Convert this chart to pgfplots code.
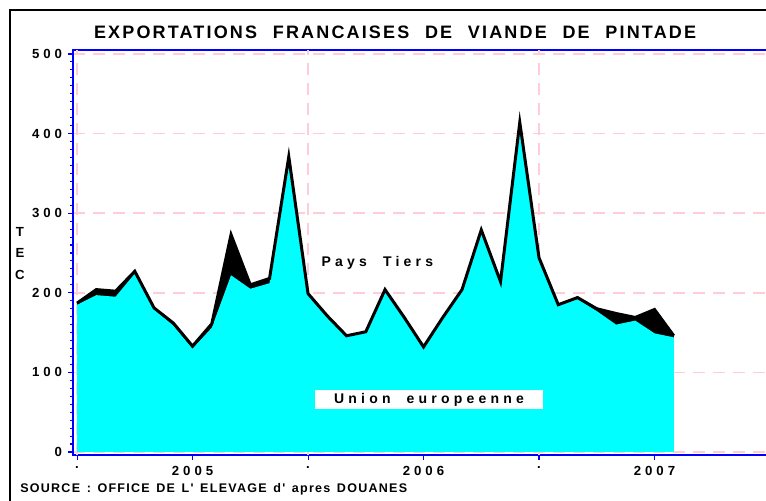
\documentclass[border=0pt]{standalone}
\usepackage{fontspec}
\setmainfont{Liberation Sans}
\newfontfamily\titlefont{Liberation Sans}[LetterSpace=12,WordSpace=2.2]
\newfontfamily\tickfont{Liberation Sans}[LetterSpace=30]
\newfontfamily\labfont{Liberation Sans}[LetterSpace=30,WordSpace=2]
\newfontfamily\srcfont{Liberation Sans}[LetterSpace=10,WordSpace=1.4]
\usepackage{pgfplots}
\usepackage{pgfplotstable}
\pgfplotsset{compat=1.18}
\definecolor{gridpink}{RGB}{255,205,215}
\definecolor{aqua}{RGB}{0,255,255}
\definecolor{axblue}{RGB}{0,0,255}
\pgfplotstableread{
m total ue
0 187 185
1 204 197
2 202 195
3 227 224
4 181 179
5 162 159
6 133 130
7 161 156
8 273 222
9 210 205
10 218 212
11 371 368
12 199 198
13 171 170
14 146 145
15 151 150
16 204 203
17 169 168
18 132 131
19 169 168
20 204 203
21 279 277
22 214 213
23 414 410
24 244 243
25 185 184
26 194 192
27 180 177
28 174 160
29 169 165
30 179 149
31 146 144
}\datatab
\begin{document}
\begin{tikzpicture}
\begin{axis}[
 at={(54.75pt,-341.25pt)}, anchor=south west,
 scale only axis, width=522.75pt, height=303.75pt,
 xmin=-0.21, xmax=36, ymin=-3.8, ymax=505,
 axis line style={axblue, line width=1pt},
 tick pos=left, tick align=outside,
 xtick={0,6,12,18,24,30}, xticklabels={.,2005,.,2006,.,2007},
 ytick={0,100,...,500},
 minor y tick num=9,
 major tick length=3.5pt, minor tick length=2pt,
 every tick/.style={axblue, line width=0.8pt},
 ymajorgrids,
 extra x ticks={0,12,24,36}, extra x tick labels={},
 extra x tick style={xmajorgrids=true},
 major grid style={gridpink, line width=1.1pt, dash pattern=on 9pt off 6pt},
 /pgf/number format/assume math mode=true,
 ticklabel style={font=\tickfont\bfseries\fontsize{9.9}{11}\selectfont},
 xticklabel style={yshift=-1.6pt},
 yticklabel style={xshift=-1.2pt},
]
\addplot[fill=black, draw=none] table[x=m,y=total]{\datatab} \closedcycle;
\addplot[fill=aqua, draw=none] table[x=m,y=ue]{\datatab} \closedcycle;
\addplot[black, line width=2.25pt] table[x=m,y=total]{\datatab};
\end{axis}
\node[font=\titlefont\bfseries\fontsize{13.5}{15}\selectfont] at (296.3pt,-24pt) {EXPORTATIONS FRANCAISES DE VIANDE DE PINTADE};
\node[font=\labfont\bfseries\fontsize{10.5}{12}\selectfont] at (283.0pt,-196.9pt) {Pays Tiers};
\node[fill=white, minimum width=171pt, minimum height=14.25pt, inner sep=0pt, font=\labfont\bfseries\fontsize{10.5}{12}\selectfont] at (321.75pt,-299.6pt) {Union europeenne};
\node[font=\tickfont\bfseries\fontsize{9.9}{11}\selectfont] at (15pt,-174pt) {T};
\node[font=\tickfont\bfseries\fontsize{9.9}{11}\selectfont] at (15pt,-189.75pt) {E};
\node[font=\tickfont\bfseries\fontsize{9.9}{11}\selectfont] at (15pt,-206.25pt) {C};
\node[anchor=west, inner sep=0pt, font=\srcfont\bfseries\fontsize{9.4}{11}\selectfont] at (15pt,-367.1pt) {SOURCE : OFFICE DE L' ELEVAGE d' apres DOUANES};
\draw[line width=1.8pt] (7.5pt,-400pt) -- (7.5pt,-7.5pt) -- (600pt,-7.5pt);
\pgfresetboundingbox
\path[use as bounding box] (0,0) rectangle (574.5pt,-375pt);
\end{tikzpicture}
\end{document}
